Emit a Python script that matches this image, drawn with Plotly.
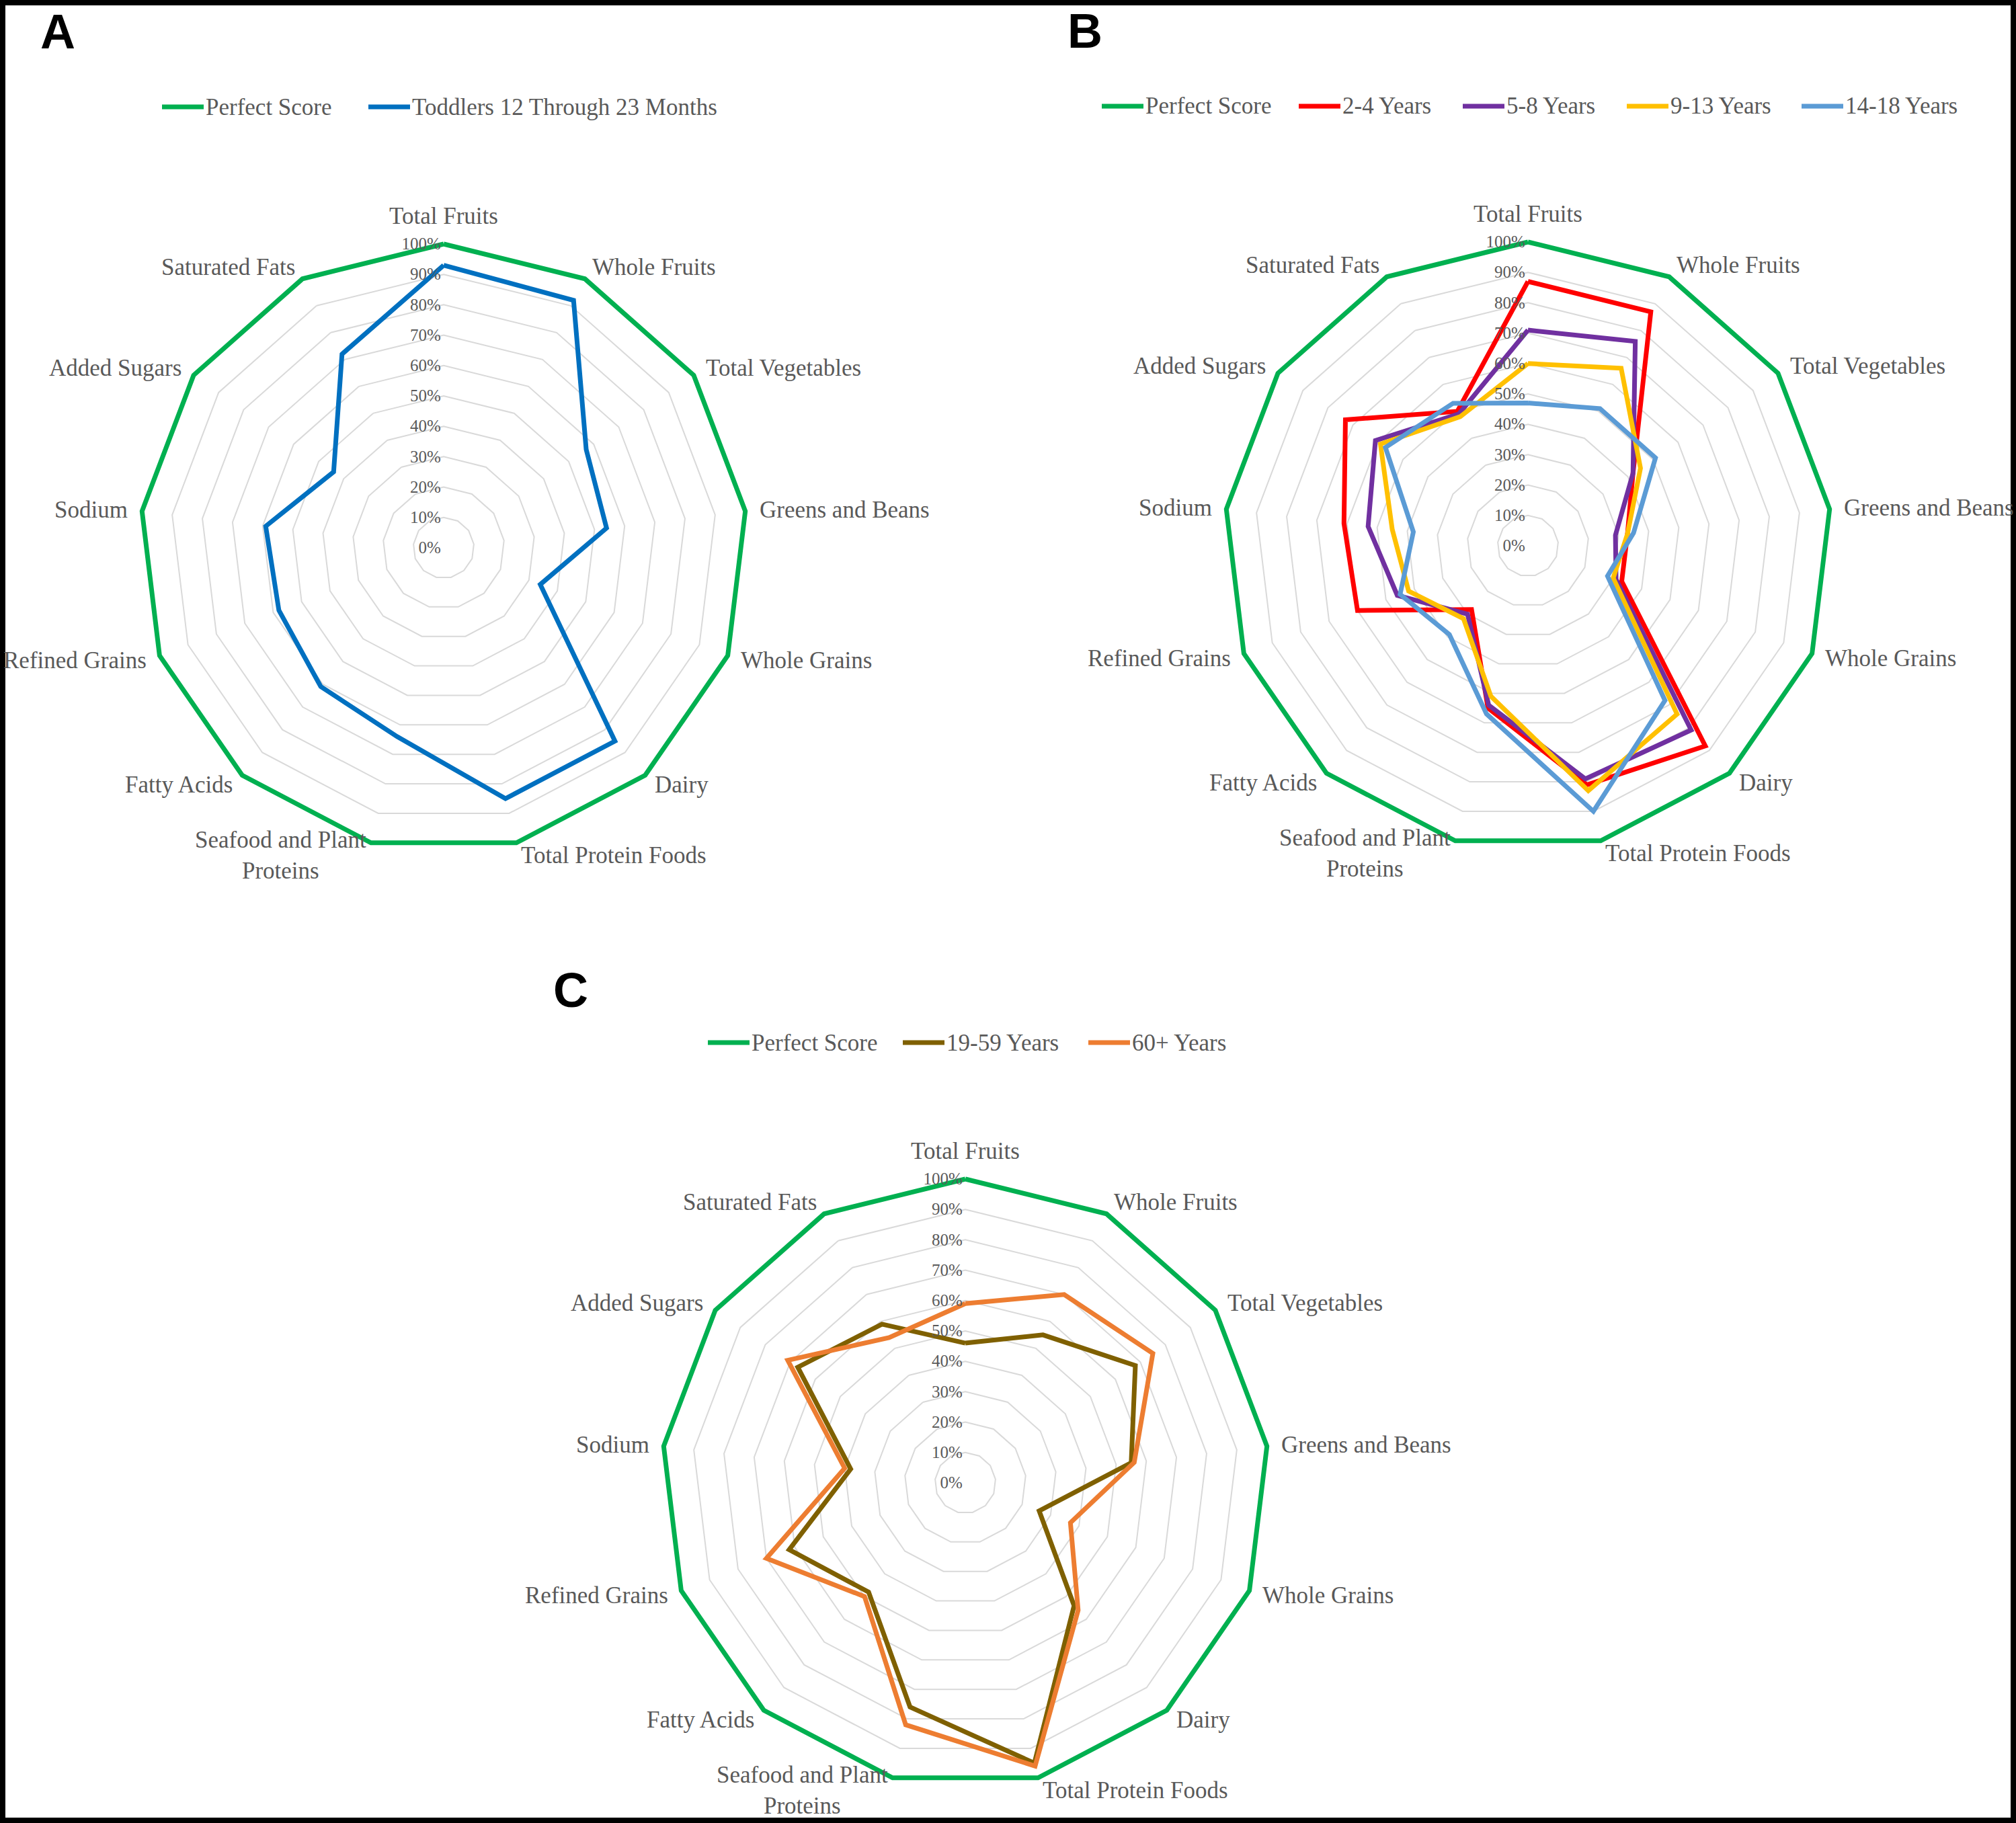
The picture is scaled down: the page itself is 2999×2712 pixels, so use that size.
import math
import plotly.graph_objects as go

categories = ["Total Fruits", "Whole Fruits", "Total Vegetables", "Greens and Beans",
              "Whole Grains", "Dairy", "Total Protein Foods", "Seafood and Plant<br>Proteins",
              "Fatty Acids", "Refined Grains", "Sodium", "Added Sugars", "Saturated Fats"]

perfect_score = [100] * 13

# Panel A
toddlers = [93, 92, 57, 54, 34, 85, 85, 64, 61, 58, 59, 44, 72]

# Panel B
years_2_4 = [87, 87, 42, 33, 33, 88, 81, 55, 28, 60, 61, 73, 50]
years_5_8 = [71, 76, 42, 29, 31, 81, 79, 54, 30, 46, 53, 61, 49]
years_9_13 = [60, 66, 45, 33, 30, 74, 83, 51, 32, 42, 45, 59, 48]
years_14_18 = [47, 51, 51, 35, 28, 68, 90, 57, 39, 45, 38, 57, 53]

# Panel C
years_19_59 = [46, 55, 68, 55, 26, 54, 95, 76, 48, 62, 38, 67, 59]
years_60_plus = [59, 70, 75, 56, 37, 56, 96, 82, 50, 70, 40, 71, 54]

tick_vals = list(range(0, 101, 10))
tick_text = [f"{v}%" for v in tick_vals]

GREEN = "#00B050"
W, H = 2999, 2712
SERIF = "Liberation Serif"
GRAY_TXT = "#595959"
LW = 7

panels = [
    ("polar", [("Perfect Score", perfect_score, GREEN),
               ("Toddlers 12 Through 23 Months", toddlers, "#0070C0")]),
    ("polar2", [("Perfect Score", perfect_score, GREEN),
                ("2-4 Years", years_2_4, "#FF0000"),
                ("5-8 Years", years_5_8, "#7030A0"),
                ("9-13 Years", years_9_13, "#FFC000"),
                ("14-18 Years", years_14_18, "#5B9BD5")]),
    ("polar3", [("Perfect Score", perfect_score, GREEN),
                ("19-59 Years", years_19_59, "#7F6000"),
                ("60+ Years", years_60_plus, "#ED7D31")]),
]

# layout geometry (px): panel centres, radius of the 100% ring, legend rows
R = 452
R_MAX = 102.0            # radial range headroom so the 100% line is not clipped
R_DOM = R * R_MAX / 100  # plot-area radius
centres = {"polar": (660, 815), "polar2": (2273, 812), "polar3": (1436, 2206)}
legend_rows = {
    "polar": (159, [241, 548]),
    "polar2": (158, [1639, 1932, 2176, 2420, 2680]),
    "polar3": (1551, [1053, 1343, 1619]),
}
SAMPLE_LEN = 62

fig = go.Figure()
for subplot, series in panels:
    for name, vals, color in series:
        fig.add_trace(go.Scatterpolar(
            r=vals + vals[:1], theta=categories + categories[:1],
            mode="lines", name=name, line=dict(color=color, width=LW),
            cliponaxis=False,
            subplot=subplot, showlegend=False, hoverinfo="skip"))


def polar_layout(cx, cy):
    return dict(
        domain=dict(x=[(cx - R_DOM) / W, (cx + R_DOM) / W],
                    y=[1 - (cy + R_DOM) / H, 1 - (cy - R_DOM) / H]),
        bgcolor="white",
        gridshape="linear",
        angularaxis=dict(direction="clockwise", rotation=90, type="category",
                         categoryarray=categories, showgrid=False, showline=False,
                         ticks="", showticklabels=False),
        radialaxis=dict(range=[0, R_MAX], tickvals=tick_vals, ticktext=tick_text,
                        angle=90, tickangle=90, showline=False, ticks="",
                        gridcolor="#D9D9D9", gridwidth=2, side="counterclockwise",
                        tickfont=dict(family=SERIF, size=25, color=GRAY_TXT)),
    )


shapes = [dict(type="rect", xref="paper", yref="paper",
               x0=4 / W, x1=1 - 4 / W, y0=4 / H, y1=1 - 4 / H,
               line=dict(color="black", width=8))]
annotations = []

# category labels placed just outside each axis vertex
n = len(categories)
for subplot, _ in panels:
    cx, cy = centres[subplot]
    for k, cat in enumerate(categories):
        a = 2 * math.pi * k / n
        s, c = math.sin(a), math.cos(a)
        d = R + (42 if k == 0 else 19)
        x = cx + d * s
        y = cy - d * c
        xanchor = "center" if abs(s) < 1e-6 else ("left" if s > 0 else "right")
        annotations.append(dict(text=cat, x=x / W, y=1 - y / H, xref="paper", yref="paper",
                                xanchor=xanchor, yanchor="middle", align="center",
                                showarrow=False,
                                font=dict(family=SERIF, size=35, color=GRAY_TXT)))

# legends
for subplot, series in panels:
    ly, xs = legend_rows[subplot]
    for (name, _, color), x0 in zip(series, xs):
        shapes.append(dict(type="line", xref="paper", yref="paper",
                           x0=x0 / W, x1=(x0 + SAMPLE_LEN) / W,
                           y0=1 - ly / H, y1=1 - ly / H,
                           line=dict(color=color, width=7)))
        annotations.append(dict(text=name, x=(x0 + SAMPLE_LEN + 1) / W, y=1 - ly / H,
                                xref="paper", yref="paper", xanchor="left", yanchor="middle",
                                showarrow=False,
                                font=dict(family=SERIF, size=35, color=GRAY_TXT)))

for letter, (x, y) in {"A": (86, 47), "B": (1614, 46), "C": (849, 1473)}.items():
    annotations.append(dict(text=f"<b>{letter}</b>", x=x / W, y=1 - y / H, xref="paper", yref="paper",
                            xanchor="center", yanchor="middle", showarrow=False,
                            font=dict(family="Liberation Sans", size=72, color="black")))

fig.update_layout(
    width=W, height=H,
    margin=dict(l=0, r=0, t=0, b=0),
    paper_bgcolor="white",
    showlegend=False,
    polar=polar_layout(*centres["polar"]),
    polar2=polar_layout(*centres["polar2"]),
    polar3=polar_layout(*centres["polar3"]),
    shapes=shapes,
    annotations=annotations,
)

fig.write_html("out.html", config={"displayModeBar": False},
               post_script="document.body.style.margin='0px';document.body.style.overflow='hidden';")
